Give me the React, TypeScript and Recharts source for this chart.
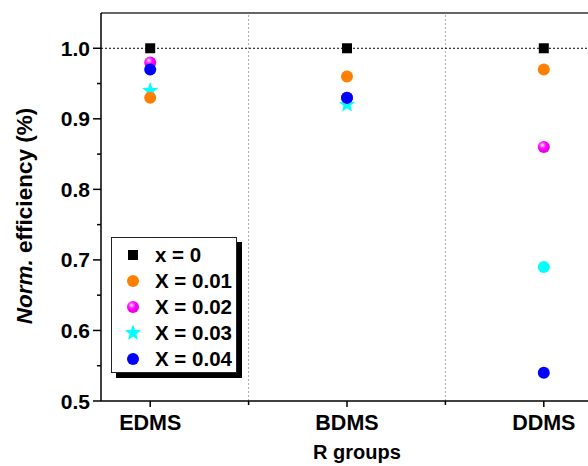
import React from 'react';
import { ScatterChart, Scatter, XAxis, YAxis, ReferenceLine } from 'recharts';

// R groups on the x axis, placed at 1, 2, 3
const groups = ['EDMS', 'BDMS', 'DDMS'];
const xTicks = [1, 1.5, 2, 2.5, 3];
const yTicks = [0.5, 0.55, 0.6, 0.65, 0.7, 0.75, 0.8, 0.85, 0.9, 0.95, 1.0];

// normalized efficiency per group
const effX0 = [1.0, 1.0, 1.0];
const effX001 = [0.93, 0.96, 0.97];
const effX002 = [0.98, 0.93, 0.86];
const effX003 = [0.94, 0.92, 0.69];
const effX004 = [0.97, 0.93, 0.54];

const FONT = '"Liberation Sans", Arial, sans-serif';

const toPoints = (vals: number[]) => vals.map((v, i) => ({ x: i + 1, y: v, group: groups[i] }));

const starPath = (cx: number, cy: number, ro: number, ri: number) => {
  let d = '';
  for (let k = 0; k < 10; k++) {
    const r = k % 2 === 0 ? ro : ri;
    const a = -Math.PI / 2 + (k * Math.PI) / 5;
    d += `${k === 0 ? 'M' : 'L'}${cx + r * Math.cos(a)},${cy + r * Math.sin(a)}`;
  }
  return d + 'Z';
};

const SquareMark = ({ cx, cy }: any) => <rect x={cx - 5} y={cy - 5} width={10} height={10} fill="#000" />;
const OrangeMark = ({ cx, cy }: any) => <circle cx={cx} cy={cy} r={6} fill="#ff8000" />;
const SphereMark = ({ cx, cy }: any) => <circle cx={cx} cy={cy} r={6} fill="url(#sphere)" />;
const BlueMark = ({ cx, cy }: any) => <circle cx={cx} cy={cy} r={6} fill="#0000ff" />;
// the DDMS point of this series is plotted as a plain dot
const StarMark = ({ cx, cy, payload }: any) =>
  payload && payload.group === 'DDMS' ? (
    <circle cx={cx} cy={cy} r={6} fill="#00ffff" />
  ) : (
    <path d={starPath(cx, cy, 8.5, 3.6)} fill="#00ffff" />
  );

const SphereGradient = ({ id }: { id: string }) => (
  <radialGradient id={id} cx="38%" cy="35%" r="60%">
    <stop offset="0%" stopColor="#ffffff" />
    <stop offset="28%" stopColor="#ff55ff" />
    <stop offset="55%" stopColor="#ff00ff" />
    <stop offset="100%" stopColor="#e600e6" />
  </radialGradient>
);

const legendItems = [
  { name: 'x = 0', mark: 'square' },
  { name: 'X = 0.01', mark: 'orange' },
  { name: 'X = 0.02', mark: 'sphere' },
  { name: 'X = 0.03', mark: 'star' },
  { name: 'X = 0.04', mark: 'blue' },
];

const LegendMark = ({ mark }: { mark: string }) => (
  <svg width={18} height={18} style={{ display: 'block' }}>
    <defs>
      <SphereGradient id="sphereLeg" />
    </defs>
    {mark === 'square' && <SquareMark cx={9} cy={9} />}
    {mark === 'orange' && <OrangeMark cx={9} cy={9} />}
    {mark === 'sphere' && <circle cx={9} cy={9} r={6} fill="url(#sphereLeg)" />}
    {mark === 'star' && <path d={starPath(9, 9, 8.5, 3.6)} fill="#00ffff" />}
    {mark === 'blue' && <BlueMark cx={9} cy={9} />}
  </svg>
);

// legend box with a solid drop shadow, laid over the lower-left of the plot
const LegendBox = () => (
  <div
    style={{
      position: 'absolute',
      left: 111,
      top: 237,
      width: 124,
      height: 130,
      border: '1px solid #222',
      background: '#fff',
      boxShadow: '5px 5px 0 #000',
      paddingTop: 4,
    }}
  >
    {legendItems.map((it) => (
      <div key={it.name} style={{ display: 'flex', alignItems: 'center', height: 26 }}>
        <div style={{ width: 12 }} />
        <LegendMark mark={it.mark} />
        <span style={{ marginLeft: 13, fontFamily: FONT, fontWeight: 'bold', fontSize: 20.5, color: '#000' }}>
          {it.name}
        </span>
      </div>
    ))}
  </div>
);

const XTick = ({ x, y, payload }: any) => {
  const v = payload.value;
  const major = Number.isInteger(v);
  return (
    <g>
      <line x1={x} x2={x} y1={y} y2={y + (major ? 6 : 4)} stroke="#000" strokeWidth={1.5} />
      {major && (
        <text x={x} y={y + 29} textAnchor="middle" fontFamily={FONT} fontWeight="bold" fontSize={21.5} fill="#000">
          {groups[v - 1]}
        </text>
      )}
    </g>
  );
};

const YTick = ({ x, y, payload }: any) => {
  const v = payload.value;
  const major = Math.abs(v * 10 - Math.round(v * 10)) < 1e-6;
  return (
    <g>
      <line x1={x} x2={x - (major ? 8 : 4)} y1={y} y2={y} stroke="#000" strokeWidth={1.5} />
      {major && (
        <text x={x - 11} y={y + 7.5} textAnchor="end" fontFamily={FONT} fontWeight="bold" fontSize={21} fill="#000">
          {v.toFixed(1)}
        </text>
      )}
    </g>
  );
};

const App: React.FC = () => {
  return (
    <div style={{ position: 'fixed', left: 0, top: 0, width: 588, height: 466, overflow: 'hidden', background: '#fff' }}>
      <ScatterChart width={620} height={466} margin={{ top: 13, right: 27, left: 0, bottom: 0 }}>
        <defs>
          <SphereGradient id="sphere" />
        </defs>
        <XAxis
          dataKey="x"
          type="number"
          domain={[0.75, 3.25]}
          ticks={xTicks}
          interval={0}
          height={65}
          tickSize={0}
          tickMargin={0}
          tick={<XTick />}
          axisLine={{ stroke: '#000', strokeWidth: 1.5 }}
          label={() => (
            <text x={357} y={459} textAnchor="middle" fontFamily={FONT} fontWeight="bold" fontSize={20} fill="#000">
              R groups
            </text>
          )}
        />
        <YAxis
          dataKey="y"
          type="number"
          domain={[0.5, 1.05]}
          ticks={yTicks}
          interval={0}
          width={101}
          tickSize={0}
          tickMargin={0}
          tick={<YTick />}
          axisLine={{ stroke: '#000', strokeWidth: 1.5 }}
          allowDataOverflow
          label={() => (
            <text
              transform="translate(32,216) rotate(-90)"
              textAnchor="middle"
              fontFamily={FONT}
              fontWeight="bold"
              fontSize={22.5}
              fill="#000"
            >
              <tspan fontStyle="italic">Norm.</tspan> efficiency (%)
            </text>
          )}
        />
        <ReferenceLine y={1.05} stroke="#333" strokeWidth={1.5} ifOverflow="visible" />
        <ReferenceLine x={1.5} stroke="#aaa" strokeDasharray="2 2" />
        <ReferenceLine x={2.5} stroke="#aaa" strokeDasharray="2 2" />
        <ReferenceLine y={1} stroke="#000" strokeDasharray="2 2" />
        <Scatter name="x = 0" data={toPoints(effX0)} shape={SquareMark} isAnimationActive={false} />
        <Scatter name="X = 0.03" data={toPoints(effX003)} shape={StarMark} isAnimationActive={false} />
        <Scatter name="X = 0.02" data={toPoints(effX002)} shape={SphereMark} isAnimationActive={false} />
        <Scatter name="X = 0.01" data={toPoints(effX001)} shape={OrangeMark} isAnimationActive={false} />
        <Scatter name="X = 0.04" data={toPoints(effX004)} shape={BlueMark} isAnimationActive={false} />
      </ScatterChart>
      <LegendBox />
    </div>
  );
};

export default App;
